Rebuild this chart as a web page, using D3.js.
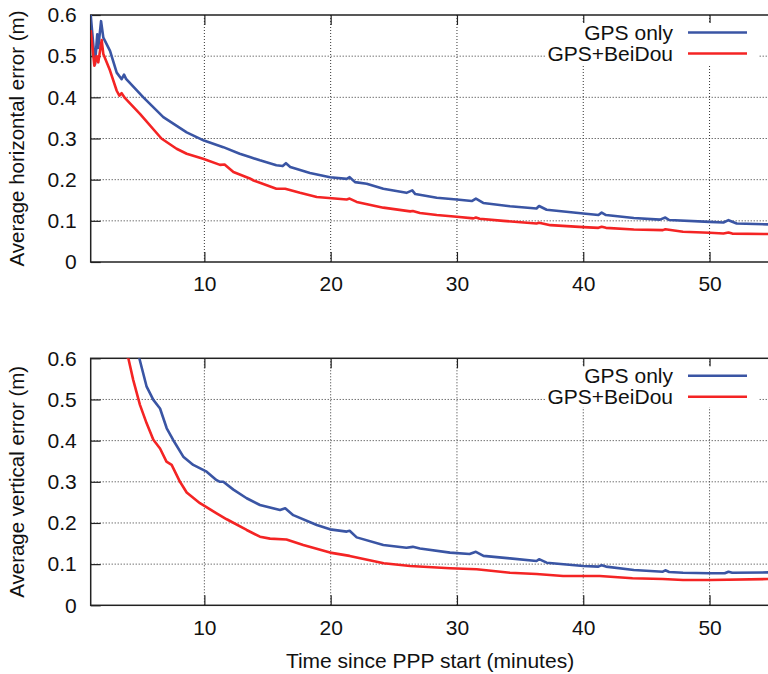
<!DOCTYPE html>
<html>
<head>
<meta charset="utf-8">
<script src="https://cdn.jsdelivr.net/npm/d3@7"></script>
<style>
  body { margin: 0; background: #fff; }
  text { font-family: "Liberation Sans", Arial, sans-serif; fill: #111; }
</style>
</head>
<body>
<div id="chart"></div>
<script>
// Series: [minutes since PPP start, average error (m)]
const horizGps = [[1,0.6],[1.34,0.48],[1.52,0.553],[1.6,0.52],[1.82,0.585],[2.0,0.545],[2.53,0.513],[3.06,0.46],[3.45,0.444],[3.64,0.455],[3.8,0.445],[5.17,0.40],[6.75,0.352],[8.6,0.315],[9.97,0.295],[11.5,0.279],[12.8,0.263],[13.6,0.255],[14.4,0.247],[15.7,0.235],[16.2,0.233],[16.46,0.240],[16.8,0.231],[18.36,0.216],[19.95,0.206],[21.27,0.202],[21.5,0.206],[21.93,0.194],[22.85,0.190],[24.17,0.178],[26.0,0.168],[26.46,0.174],[26.7,0.165],[28.4,0.156],[29.98,0.152],[31.17,0.148],[31.5,0.154],[32.08,0.1435],[34.2,0.1355],[36.3,0.13],[36.5,0.136],[37.1,0.127],[40,0.118],[41.2,0.114],[41.46,0.12],[41.8,0.114],[44,0.107],[46.07,0.103],[46.5,0.108],[46.8,0.102],[50,0.0975],[51.1,0.096],[51.5,0.1016],[52.15,0.0936],[55,0.091]];
const horizBds = [[1,0.563],[1.29,0.477],[1.47,0.50],[1.6,0.485],[1.74,0.513],[1.87,0.539],[2.0,0.505],[2.53,0.465],[3.06,0.416],[3.27,0.404],[3.45,0.41],[3.72,0.398],[4.9,0.36],[6.6,0.30],[7.8,0.275],[8.6,0.263],[9.9,0.251],[11.24,0.236],[11.6,0.237],[12.3,0.2185],[13.6,0.203],[13.9,0.198],[15.7,0.178],[16.4,0.178],[17.57,0.168],[18.9,0.158],[21.27,0.152],[21.5,0.154],[22.06,0.146],[24.17,0.132],[26.3,0.123],[26.5,0.124],[27.07,0.119],[28.4,0.114],[29.98,0.11],[31.3,0.106],[31.5,0.108],[31.8,0.105],[33.67,0.1],[36.3,0.0936],[36.5,0.0955],[37.4,0.0895],[40,0.0847],[41.2,0.083],[41.46,0.0855],[41.8,0.083],[44,0.079],[46.3,0.0774],[46.5,0.0795],[47.9,0.0734],[50,0.071],[51.1,0.0694],[51.5,0.0718],[51.8,0.069],[55,0.0677]];
const vertGps = [[1,0.95],[3,0.8],[4.5,0.66],[4.85,0.6],[5.43,0.531],[5.96,0.499],[6.49,0.478],[7.02,0.43],[7.54,0.401],[8.33,0.361],[9.12,0.341],[10.18,0.3245],[10.97,0.304],[11.24,0.30],[11.5,0.30],[12.3,0.281],[13.35,0.26],[14.4,0.2436],[15.99,0.2315],[16.4,0.2356],[17.04,0.219],[18.9,0.195],[19.95,0.1845],[21.27,0.179],[21.5,0.181],[22.06,0.165],[24.17,0.1465],[26,0.14],[26.5,0.142],[27.07,0.138],[29.45,0.128],[31,0.1245],[31.5,0.13],[32.1,0.12],[34.2,0.114],[36.3,0.1076],[36.5,0.112],[37.1,0.1035],[40,0.0955],[41.2,0.094],[41.46,0.0975],[41.8,0.094],[44,0.0857],[46.3,0.0816],[46.5,0.085],[46.8,0.081],[47.9,0.079],[50,0.0777],[51.2,0.0777],[51.5,0.0816],[51.8,0.079],[55,0.080]];
const vertBds = [[1,0.9],[3,0.68],[3.6,0.61],[3.98,0.6],[4.37,0.547],[4.9,0.487],[5.43,0.442],[5.96,0.402],[6.49,0.381],[7.0,0.349],[7.41,0.341],[8.07,0.30],[8.6,0.274],[9.65,0.248],[10.97,0.2235],[11.77,0.209],[13.35,0.183],[14.4,0.1667],[15.2,0.162],[16.5,0.16],[17.83,0.1465],[19.95,0.128],[21.5,0.12],[24.2,0.102],[26.3,0.0955],[29.45,0.09],[31.56,0.0874],[34.2,0.079],[36.3,0.076],[38.4,0.071],[41.3,0.071],[43.9,0.0656],[46.3,0.064],[47.9,0.0615],[50,0.0615],[55,0.064]];

const xTicks = [10, 20, 30, 40, 50];
const yTicks = [0, 0.1, 0.2, 0.3, 0.4, 0.5, 0.6];
const seriesNames = ["GPS only", "GPS+BeiDou"];
const colors = ["#3a55a4", "#f42424"];

const W = 768, H = 674;
const left = 90.7, right = 772.7;

const svg = d3.select("#chart").append("svg")
    .attr("width", W)
    .attr("height", H);

const x = d3.scaleLinear().domain([1, 55]).range([left, right]);

function panel(id, top, bottom, title, series) {
    const y = d3.scaleLinear().domain([0, 0.6]).range([bottom, top]);
    const g = svg.append("g");

    // Grid (dotted)
    g.selectAll(".gx").data(xTicks).enter().append("line")
        .attr("x1", d => x(d)).attr("x2", d => x(d))
        .attr("y1", top).attr("y2", bottom)
        .attr("stroke", "#333").attr("stroke-width", 1)
        .attr("stroke-dasharray", "1,2");
    g.selectAll(".gy").data(yTicks.slice(1, -1)).enter().append("line")
        .attr("x1", left).attr("x2", right)
        .attr("y1", d => y(d)).attr("y2", d => y(d))
        .attr("stroke", "#333").attr("stroke-width", 1)
        .attr("stroke-dasharray", "1,2");

    // Axes with inward ticks, mirrored
    const ax = g.append("g").attr("transform", `translate(0,${bottom})`)
        .call(d3.axisBottom(x).tickValues(xTicks).tickSizeInner(-10).tickSizeOuter(0).tickPadding(22));
    g.append("g").attr("transform", `translate(0,${top})`)
        .call(d3.axisTop(x).tickValues(xTicks).tickSizeInner(-10).tickSizeOuter(0).tickFormat(""));
    g.append("g").attr("transform", `translate(${left},0)`)
        .call(d3.axisLeft(y).tickValues(yTicks).tickSizeInner(-10).tickSizeOuter(0).tickPadding(14)
            .tickFormat(d => d === 0 ? "0" : d3.format(".1f")(d)));
    g.selectAll(".domain").remove();
    g.selectAll(".tick line").attr("stroke", "#222").attr("stroke-width", 1.2);
    g.selectAll(".tick text").style("font-size", "21px").attr("fill", "#111");
    ax.selectAll(".tick text").attr("dy", "0.35em");

    // Border
    g.append("rect")
        .attr("x", left).attr("y", top)
        .attr("width", right - left).attr("height", bottom - top)
        .attr("fill", "none").attr("stroke", "#222").attr("stroke-width", 1.5);

    // Clip + lines
    svg.append("clipPath").attr("id", id)
        .append("rect").attr("x", left).attr("y", top)
        .attr("width", right - left).attr("height", bottom - top);
    const line = d3.line().x(d => x(d[0])).y(d => y(d[1]));
    series.forEach((s, i) => {
        g.append("path")
            .datum(s)
            .attr("clip-path", `url(#${id})`)
            .attr("fill", "none")
            .attr("stroke", colors[i])
            .attr("stroke-width", 2.6)
            .attr("stroke-linejoin", "round")
            .attr("d", line);
    });

    // Legend (opaque)
    const lg = g.append("g");
    lg.append("rect")
        .attr("x", 545).attr("y", top + 8)
        .attr("width", 213).attr("height", 41)
        .attr("fill", "#fff");
    seriesNames.forEach((name, i) => {
        const ly = top + 17.5 + i * 21;
        lg.append("text")
            .attr("x", 673).attr("y", ly)
            .attr("text-anchor", "end")
            .attr("dominant-baseline", "central")
            .style("font-size", "21px")
            .text(name);
        lg.append("line")
            .attr("x1", 688).attr("x2", 747)
            .attr("y1", ly).attr("y2", ly)
            .attr("stroke", colors[i]).attr("stroke-width", 2.6);
    });

    // Y-axis title
    g.append("text")
        .attr("transform", `translate(16,${(top + bottom) / 2}) rotate(-90)`)
        .attr("text-anchor", "middle")
        .attr("dominant-baseline", "central")
        .style("font-size", "20.5px")
        .text(title);
}

panel("clipTop", 15, 262, "Average horizontal error (m)", [horizGps, horizBds]);
panel("clipBot", 358.3, 605.3, "Average vertical error (m)", [vertGps, vertBds]);

// X-axis title
svg.append("text")
    .attr("x", 430).attr("y", 660)
    .attr("text-anchor", "middle")
    .attr("dominant-baseline", "central")
    .style("font-size", "21px")
    .text("Time since PPP start (minutes)");
</script>
</body>
</html>
